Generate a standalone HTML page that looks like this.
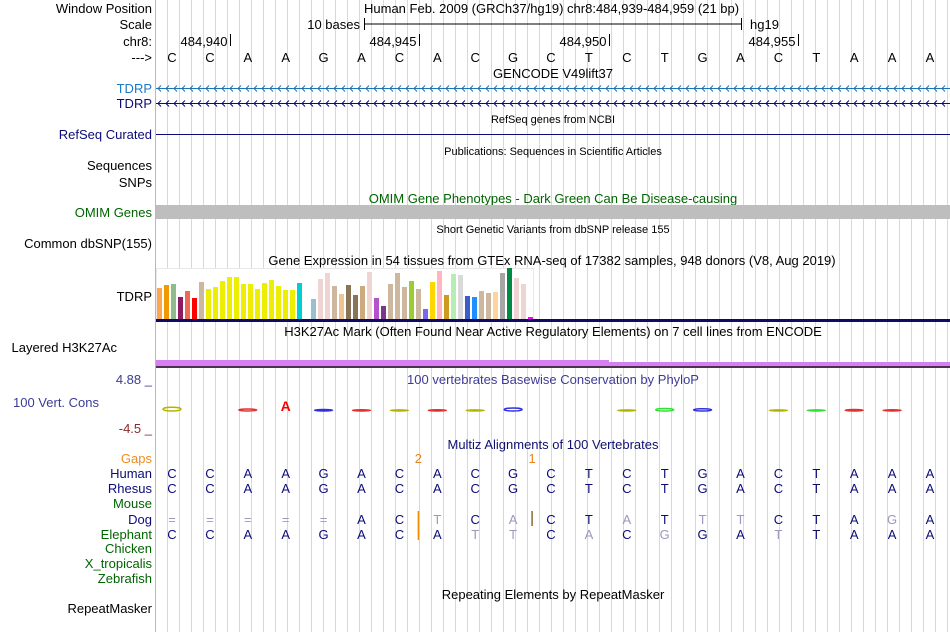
<!DOCTYPE html>
<html><head><meta charset="utf-8">
<style>
html,body{margin:0;padding:0;background:#fff;}
svg{display:block;font-family:"Liberation Sans",sans-serif;}
text{font-size:13px;}
.lbl{text-anchor:end;fill:#000;}
.nv{fill:#0c0c78;}
.gr{fill:#006400;}
.sm{font-size:11px;}
.c{text-anchor:middle;}
</style></head>
<body>
<svg id="chart" width="950" height="632" viewBox="0 0 950 632" xmlns="http://www.w3.org/2000/svg">
<rect width="950" height="632" fill="#fff"/>
<g id="grid"></g>
<line x1="155.5" y1="0" x2="155.5" y2="632" stroke="#f4a0a0"/>

<g>
<text class="lbl" x="152" y="13">Window Position</text>
<text class="lbl" x="152" y="29">Scale</text>
<text class="lbl" x="152" y="46">chr8:</text>
<text class="lbl" x="152" y="62">---&gt;</text>
<text class="lbl" x="152" y="93" style="fill:#1e78c8">TDRP</text>
<text class="lbl nv" x="152" y="108">TDRP</text>
<text class="lbl nv" x="152" y="139">RefSeq Curated</text>
<text class="lbl" x="152" y="170">Sequences</text>
<text class="lbl" x="152" y="187">SNPs</text>
<text class="lbl gr" x="152" y="217">OMIM Genes</text>
<text class="lbl" x="152" y="248">Common dbSNP(155)</text>
<text class="lbl" x="152" y="301">TDRP</text>
<text class="lbl" x="117" y="352">Layered H3K27Ac</text>
<text class="lbl" x="152" y="384" style="fill:#3c3c96">4.88 _</text>
<text class="lbl" x="99" y="407" style="fill:#3c3c96">100 Vert. Cons</text>
<text class="lbl" x="152" y="433" style="fill:#8b2a2a">-4.5 _</text>
<text class="lbl" x="152" y="463" style="fill:#f08c1e">Gaps</text>
<text class="lbl nv" x="152" y="478">Human</text>
<text class="lbl nv" x="152" y="493">Rhesus</text>
<text class="lbl gr" x="152" y="508">Mouse</text>
<text class="lbl nv" x="152" y="524">Dog</text>
<text class="lbl gr" x="152" y="539">Elephant</text>
<text class="lbl gr" x="152" y="553">Chicken</text>
<text class="lbl gr" x="152" y="568">X_tropicalis</text>
<text class="lbl gr" x="152" y="583">Zebrafish</text>
<text class="lbl" x="152" y="613">RepeatMasker</text>
</g>

<g>
<text x="364" y="13">Human Feb. 2009 (GRCh37/hg19)   chr8:484,939-484,959 (21 bp)</text>
<text x="360" y="29" text-anchor="end">10 bases</text>
<line x1="364" y1="24" x2="742" y2="24" stroke="#000"/>
<line x1="364.5" y1="18" x2="364.5" y2="30" stroke="#000"/>
<line x1="741.5" y1="18" x2="741.5" y2="30" stroke="#000"/>
<text x="750" y="29">hg19</text>
</g>
<g id="ticks"></g>
<g id="bases"></g>

<text class="c" x="553" y="78">GENCODE V49lift37</text>
<g id="genes"></g>
<text class="c sm" x="553" y="123">RefSeq genes from NCBI</text>
<line x1="156" y1="134.5" x2="950" y2="134.5" stroke="#0c0c78"/>
<text class="c sm" x="553" y="155">Publications: Sequences in Scientific Articles</text>
<text class="c" x="553" y="203" style="fill:#006400">OMIM Gene Phenotypes - Dark Green Can Be Disease-causing</text>
<rect x="156" y="205" width="794" height="14" fill="#bebebe"/>
<text class="c sm" x="553" y="233">Short Genetic Variants from dbSNP release 155</text>
<text class="c" x="552" y="265">Gene Expression in 54 tissues from GTEx RNA-seq of 17382 samples, 948 donors (V8, Aug 2019)</text>
<rect x="156.5" y="268.5" width="377" height="51" fill="#fff" stroke="#e8e8e8"/>
<g id="gtex"></g>
<rect x="156" y="319" width="794" height="3" fill="#0c0c64"/>
<text class="c" x="553" y="336">H3K27Ac Mark (Often Found Near Active Regulatory Elements) on 7 cell lines from ENCODE</text>
<rect x="156" y="360" width="453" height="6" fill="#d580f0"/>
<rect x="609" y="362" width="341" height="4" fill="#d580f0"/>
<rect x="156" y="366" width="794" height="2" fill="#503050"/>
<text class="c" x="553" y="384" style="fill:#3c3c96">100 vertebrates Basewise Conservation by PhyloP</text>
<g id="cons"></g>
<text class="c" x="553" y="449" style="fill:#101070">Multiz Alignments of 100 Vertebrates</text>
<g id="multiz"></g>
<text class="c" x="553" y="599">Repeating Elements by RepeatMasker</text>

<script>
const NS="http://www.w3.org/2000/svg";
const refSeq="CCAAGACACGCTCTGACTAAA".split("");
const rhesusSeq="CCAAGACACGCTCTGACTAAA".split("");
const dogSeq="=====ACTCACTATTTCTAGA".split("");
const dogFaint=[7,9,12,14,15,19];
const elephantSeq="CCAAGACATTCACGGATTAAA".split("");
const elephantFaint=[8,9,11,13,16];
const tickPositions=[484940,484945,484950,484955];
const startPos=484939;
const gtexValues=[31,34,35,22,28,21,37,30,32,38,42,42,35,35,30,36,39,33,29,29,36,0,20,40,46,33,25,34,24,33,47,21,13,35,46,32,38,30,10,37,48,24,45,44,23,22,28,26,27,46,51,41,35,2];
const gtexColors=["#FFA54F","#EE9A00","#8FBC8F","#8B1C62","#EE6A50","#FF0000","#CDB79E","#EEEE00","#EEEE00","#EEEE00","#EEEE00","#EEEE00","#EEEE00","#EEEE00","#EEEE00","#EEEE00","#EEEE00","#EEEE00","#EEEE00","#EEEE00","#00CED1","#CDB79E","#9AC0CD","#EED5D2","#EED5D2","#CDB79E","#EEC591","#8B7355","#8B7355","#CDAA7D","#EED5D2","#B452CD","#7A378B","#CDB79E","#CDB79E","#CDB79E","#9ACD32","#CDB79E","#7B68EE","#FFD700","#FFB6C1","#CD9B1D","#B4EEB4","#D9D9D9","#3A5FCD","#1E90FF","#CDB79E","#CDB79E","#FFD39B","#A6A6A6","#008B45","#EED5D2","#EED5D2","#FF00FF"];
const consScores=[1.5,0,0.8,3.0,0.6,0.5,0.3,0.5,0.3,1.2,0,0,0.3,1.0,0.9,0,0.3,0.3,0.6,0.5,0];
const consColors=["#b4b400","","#e03030","#ff0000","#3030e0","#e03030","#b4b400","#e03030","#b4b400","#3030e0","","","#b4b400","#30e030","#3030e0","","#b4b400","#30e030","#e03030","#e03030",""];
const gapCounts=[[6,"2"],[9,"1"]];

function bx(i){return 172+37.9*i;}
function mk(tag,attrs,parent){const e=document.createElementNS(NS,tag);for(const k in attrs)e.setAttribute(k,attrs[k]);parent.appendChild(e);return e;}

const grid=document.getElementById("grid");
for(let x=167.5;x<950;x+=12){
  const l=mk("line",{x1:x,y1:0,x2:x,y2:632,stroke:"#d4d4f6"},grid);
  
  
}
const ticks=document.getElementById("ticks");
tickPositions.forEach(p=>{
  const x=Math.round(bx(p-startPos)+20)+0.5;
  const l=mk("line",{x1:x,y1:34,x2:x,y2:46,stroke:"#000"},ticks);
  
  
  const t=mk("text",{x:x-3,y:46,"text-anchor":"end"},ticks);
  t.textContent=p.toLocaleString("en-US");
  
  
});
const bases=document.getElementById("bases");
refSeq.forEach((b,i)=>{
  const t=mk("text",{x:bx(i),y:62,"text-anchor":"middle"},bases);
  t.textContent=b;
  
  
});
const genes=document.getElementById("genes");
[[88,"#1e73b4"],[103,"#0c0c78"]].forEach(([y,c])=>{
  const g=mk("g",{},genes);
  
  
  mk("line",{x1:156,y1:y+0.5,x2:950,y2:y+0.5,stroke:c},g);
  let d="";
  for(let x=158;x<950;x+=8){d+=`M${x+3},${y-2.5}L${x},${y+0.5}L${x+3},${y+3.5}`;}
  mk("path",{d:d,stroke:c,fill:"none","stroke-width":1},g);
});
const gtex=document.getElementById("gtex");
const gBase=319, gScale=1;
gtexValues.forEach((v,i)=>{
  if(v<=0)return;
  const h=v*gScale;
  const r=mk("rect",{x:157+7*i,y:gBase-h,width:5,height:h,fill:gtexColors[i]},gtex);
  
  
});
const cons=document.getElementById("cons");
const cMid=411;
consScores.forEach((s,i)=>{
  if(!s)return;
  const x=bx(i);
  if(i===3){
    const t=mk("text",{x:x,y:cMid,"text-anchor":"middle",fill:"#ff0000","font-weight":"bold",style:"font-size:14px"},cons);
    t.textContent="A";
    
    
    return;
  }
  const h=Math.max(1.2,s*2.5);
  const e=mk("ellipse",{cx:x,cy:cMid-h/2,rx:9,ry:h/2,fill:"none",stroke:consColors[i],"stroke-width":1.4},cons);
  
  
});
const mz=document.getElementById("multiz");
gapCounts.forEach(([i,n])=>{
  const x=bx(i)+19;
  const t=mk("text",{x:x,y:463,"text-anchor":"middle",fill:"#e8861a"},mz);
  t.textContent=n;
  
  
});
function row(seq,y,faint,name){
  seq.forEach((b,i)=>{
    const f=faint.includes(i)||b==="=";
    const t=mk("text",{x:bx(i),y:y,"text-anchor":"middle",fill:f?"#9a9abe":"#0c0c78"},mz);
    t.textContent=b;
    
    
  });
}
row(refSeq,478,[],"human");
row(rhesusSeq,493,[],"rhesus");
row(dogSeq,524,dogFaint,"dog");
row(elephantSeq,539,elephantFaint,"elephant");
[[bx(6)+19,511,526],[bx(6)+19,526,540],[bx(9)+19,511,526]].forEach(([x,y1,y2],k)=>{
  const l=mk("line",{x1:x,y1:y1,x2:x,y2:y2,stroke:k===2?"#8a6a3a":"#f08c00","stroke-width":1.5},mz);
  
  
});
</script>
</svg>
</body></html>
